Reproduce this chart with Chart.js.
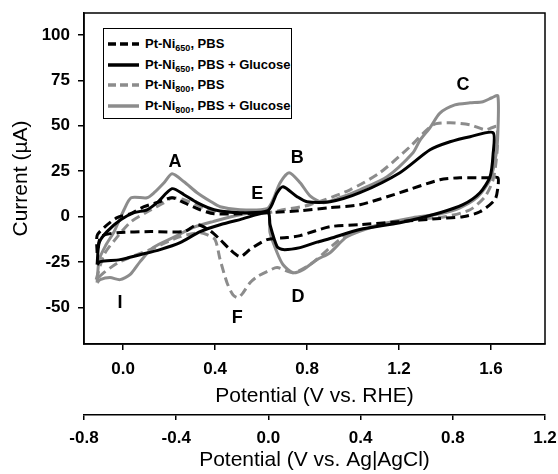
<!DOCTYPE html>
<html>
<head>
<meta charset="utf-8">
<script src="https://cdn.jsdelivr.net/npm/chart.js@4.4.0/dist/chart.umd.min.js"></script>
<style>
  body { margin: 0; background: #fff; }
  #wrap { position: relative; width: 558px; height: 474px; }
  #main { position: absolute; left: 0; top: 0; }
  #legend {
    position: absolute; left: 103px; top: 28px; width: 187px; height: 89px;
    border: 1px solid #000; background: #fff;
    font-family: "Liberation Sans", Arial, sans-serif; font-weight: bold; font-size: 13px; color: #000;
  }
  .row { position: absolute; left: 0; height: 20px; width: 100%; }
  .row svg { position: absolute; left: 4px; top: 7px; }
  .row span { position: absolute; left: 41px; top: 2px; white-space: nowrap; }
  .row sub { font-size: 9px; vertical-align: -3px; line-height: 0; }
</style>
</head>
<body>
<div id="wrap">
  <canvas id="main" width="558" height="474"></canvas>
  <div id="legend"></div>
</div>
<script>
// potentials in V vs RHE, currents in uA (each loop closed)
const pbs650V = [-0.113,-0.113,-0.083,-0.026,0.03,0.091,0.16,0.213,0.265,0.335,0.396,0.509,0.626,0.77,0.9,1.03,1.204,1.378,1.465,1.596,1.63,1.63,1.617,1.552,1.478,1.378,1.204,1.03,0.9,0.77,0.713,0.626,0.552,0.509,0.465,0.422,0.378,0.322,0.265,0.122,-0.026,-0.096,-0.113];
const pbs650I = [-20,-10.4,-6,-0.5,1.6,5.5,8.2,10.4,7.7,3.8,1.6,1.6,2.2,3.3,5,6.6,13.2,20.3,21.4,21.4,21.4,16,9.3,2.7,0,-1,-2.7,-4.4,-5.5,-10.4,-11.5,-12.6,-18,-22,-18,-12.6,-7.7,-4.4,-8.2,-8.2,-8.8,-11,-20];

const glu650V = [-0.113,-0.104,-0.07,-0.009,0.048,0.104,0.148,0.213,0.265,0.322,0.396,0.509,0.63,0.67,0.696,0.757,0.8,0.9,1.03,1.204,1.335,1.422,1.509,1.609,1.609,1.596,1.552,1.478,1.378,1.204,1.03,0.9,0.843,0.77,0.696,0.67,0.639,0.63,0.509,0.422,0.335,0.248,0.161,0.074,-0.013,-0.1,-0.113];
const glu650I = [-26.4,-14.3,-8.2,-1.6,2.2,3.8,7.7,15.4,12.1,7.7,3.8,2.2,3.3,13.2,16.5,11,8.2,8.2,13.2,24.2,36.8,41.2,44,46.2,34,22,13.2,6.6,2.2,-3.3,-7,-12,-14,-17,-18.1,-16.5,-4.4,2.2,-1.6,-4.4,-8.2,-14.3,-18.1,-20.9,-23.6,-24.7,-26.4];

const pbs800V = [-0.117,-0.083,-0.035,0.035,0.122,0.178,0.213,0.265,0.352,0.396,0.509,0.626,0.696,0.813,0.987,1.117,1.248,1.348,1.422,1.509,1.574,1.604,1.626,1.626,1.609,1.574,1.509,1.4,1.26,1.117,0.974,0.9,0.813,0.739,0.67,0.626,0.583,0.552,0.522,0.5,0.478,0.452,0.422,0.4,0.365,0.335,0.248,0.117,-0.013,-0.078,-0.117];
const pbs800I = [-34.6,-20.9,-12.6,-2.7,3.8,7.7,10.4,9.3,4.9,3.3,2.2,2.2,3.8,6.6,14.8,24.2,38.5,50.5,51.6,50.5,47.8,48.9,49.5,35,20.3,11,3.8,0,-1.6,-4.4,-9.9,-17,-26.4,-30.8,-28,-30.2,-33,-36.3,-41.8,-44.5,-43,-36.3,-23.6,-12.6,-9.9,-8.8,-11,-18.1,-24.7,-30.2,-34.6];

const glu800V = [-0.113,-0.104,-0.074,-0.039,0.004,0.035,0.104,0.135,0.178,0.213,0.265,0.322,0.383,0.422,0.509,0.626,0.652,0.683,0.722,0.77,0.813,0.87,0.943,1.03,1.148,1.261,1.291,1.335,1.378,1.443,1.509,1.565,1.604,1.63,1.63,1.622,1.596,1.543,1.465,1.378,1.26,1.117,0.974,0.9,0.843,0.783,0.739,0.696,0.67,0.639,0.63,0.509,0.391,0.304,0.217,0.13,0.074,0.03,-0.013,-0.057,-0.1,-0.113];
const glu800I = [-36.3,-23.6,-15.4,-8.2,3.8,10.4,10.4,13.2,18.7,23.6,19.2,13.2,8.2,5.5,3.8,4.4,9.3,18.7,24.2,18.7,11.5,7.7,10.4,14.8,22,35.2,42,49,57,61.5,62.6,63.2,65.4,66.5,46.2,34,20.3,11,4.9,1.6,-0.5,-4.4,-11,-19.8,-23.6,-29.1,-30.8,-26.4,-19.8,-8.8,2.7,1.1,-2.7,-6,-11.5,-17,-24.7,-31.9,-34.6,-33.5,-34.6,-36.3];

const seriesNames = ['Pt-Ni<sub>650</sub>, PBS', 'Pt-Ni<sub>650</sub>, PBS + Glucose', 'Pt-Ni<sub>800</sub>, PBS', 'Pt-Ni<sub>800</sub>, PBS + Glucose'];

const rheTicks = [0, 0.4, 0.8, 1.2, 1.6];
const agclTicks = [-0.8, -0.4, 0, 0.4, 0.8, 1.2];
const currentTicks = [-50, -25, 0, 25, 50, 75, 100];

// peak letters and where they sit (V vs RHE, uA)
const peakNames = ['A', 'B', 'C', 'D', 'E', 'F', 'I'];
const peakV = [0.226, 0.757, 1.478, 0.761, 0.583, 0.496, -0.013];
const peakI = [30.2, 32.4, 72.5, -44, 12.6, -55.5, -47.3];

const FONT = '"Liberation Sans", Arial, sans-serif';
const GRAY = '#8c8c8c';

function toPoints(xs, ys) {
  return xs.map((x, i) => ({x: x, y: ys[i]}));
}

const styles = [
  {color: '#000', dash: [9, 5]},
  {color: '#000', dash: []},
  {color: GRAY, dash: [9, 5]},
  {color: GRAY, dash: []}
];
const curves = [[pbs650V, pbs650I], [glu650V, glu650I], [pbs800V, pbs800I], [glu800V, glu800I]];

const datasets = curves.map((c, k) => ({
  label: seriesNames[k].replace(/<\/?sub>/g, ''),
  data: toPoints(c[0], c[1]),
  xAxisID: 'x',
  showLine: true,
  fill: false,
  borderColor: styles[k].color,
  borderDash: styles[k].dash,
  borderWidth: 3,
  pointRadius: 0,
  tension: 0.25
}));

// legend with real subscripts
const legendEl = document.getElementById('legend');
seriesNames.forEach((name, k) => {
  const row = document.createElement('div');
  row.className = 'row';
  row.style.top = (5 + k * 20.7) + 'px';
  const dash = styles[k].dash.length ? 'stroke-dasharray="8 4"' : '';
  row.innerHTML = '<svg width="31" height="6"><line x1="0" y1="3" x2="31" y2="3" stroke="' + styles[k].color +
    '" stroke-width="3.5" ' + dash + '/></svg><span>' + name + '</span>';
  legendEl.appendChild(row);
});

const boxPlugin = {
  id: 'box',
  afterDraw(chart) {
    const a = chart.chartArea, c = chart.ctx;
    c.save();
    c.strokeStyle = '#000';
    c.lineWidth = 1.5;
    c.strokeRect(a.left, a.top, a.right - a.left, a.bottom - a.top);
    c.restore();
  }
};

const letterPlugin = {
  id: 'letters',
  afterDatasetsDraw(chart) {
    const c = chart.ctx, sx = chart.scales.x, sy = chart.scales.y;
    c.save();
    c.font = 'bold 18px ' + FONT;
    c.fillStyle = '#000';
    c.textAlign = 'center';
    c.textBaseline = 'middle';
    peakNames.forEach((n, k) => {
      c.fillText(n, sx.getPixelForValue(peakV[k]), sy.getPixelForValue(peakI[k]));
    });
    c.restore();
  }
};

// keep the plot box fixed: no extra room for the end tick labels
function noEdgePad(s) {
  s.paddingLeft = 0; s.paddingRight = 0; s.paddingTop = 0; s.paddingBottom = 0;
}

const tickFont = {family: FONT, size: 17, weight: 'bold'};
const titleFont = {family: FONT, size: 21};
const axisGrid = {drawOnChartArea: false, drawTicks: true, tickLength: 6, color: '#000', lineWidth: 1.5};
const axisBorder = {color: '#000', width: 1.5};

new Chart(document.getElementById('main'), {
  type: 'scatter',
  data: {datasets: datasets},
  options: {
    responsive: false,
    animation: false,
    devicePixelRatio: 1,
    layout: {padding: {left: 0, top: 13, right: 13, bottom: 0}},
    plugins: {legend: {display: false}, tooltip: {enabled: false}},
    scales: {
      x: {
        type: 'linear', position: 'bottom', weight: 0, min: -0.17, max: 1.835,
        afterFit(s) { s.height = 71; noEdgePad(s); },
        afterBuildTicks(s) { s.ticks = rheTicks.map(v => ({value: v})); },
        grid: axisGrid,
        border: axisBorder,
        ticks: {color: '#000', font: tickFont, padding: 9, maxRotation: 0, autoSkip: false,
                callback: v => Number(v).toFixed(1)},
        title: {display: true, text: 'Potential (V vs. RHE)', color: '#000', font: titleFont,
                padding: {top: 0, bottom: 6}}
      },
      // second potential axis, vs Ag|AgCl
      x2: {
        type: 'linear', position: 'bottom', weight: 1, min: -0.8, max: 1.2,
        afterFit(s) { s.height = 59; noEdgePad(s); },
        afterBuildTicks(s) { s.ticks = agclTicks.map(v => ({value: v})); },
        grid: {drawOnChartArea: false, drawTicks: true, tickLength: 5, color: '#000', lineWidth: 1.5},
        border: axisBorder,
        ticks: {color: '#000', font: tickFont, padding: 8, maxRotation: 0, autoSkip: false,
                callback: v => Number(v).toFixed(1)},
        title: {display: true, text: 'Potential (V vs. Ag|AgCl)', color: '#000', font: titleFont,
                padding: {top: 0, bottom: 1}}
      },
      y: {
        type: 'linear', min: -70, max: 112,
        afterFit(s) { s.width = 84; noEdgePad(s); },
        afterBuildTicks(s) { s.ticks = currentTicks.map(v => ({value: v})); },
        grid: axisGrid,
        border: axisBorder,
        ticks: {color: '#000', font: tickFont, padding: 8, callback: v => String(v)},
        title: {display: true, text: 'Current (\u00b5A)', color: '#000', font: titleFont,
                padding: {top: 9, bottom: 0}}
      }
    }
  },
  plugins: [letterPlugin, boxPlugin]
});
</script>
</body>
</html>
